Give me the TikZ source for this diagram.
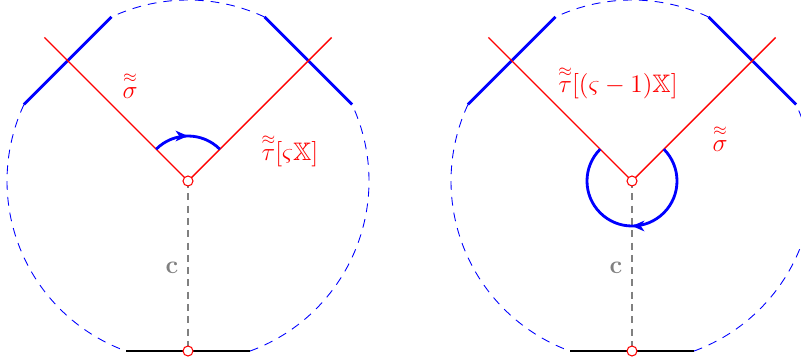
\documentclass[tikz,border=0pt]{standalone}
\usepackage{amsmath,amssymb}
\usetikzlibrary{calc,arrows.meta,decorations.markings}

\begin{document}
\begin{tikzpicture}[>=Stealth,
  redline/.style={red,line width=0.8pt},
  chord/.style={blue,line width=1.6pt},
  bound/.style={blue,line width=0.5pt,dash pattern=on 5pt off 4pt},
  axis/.style={gray,line width=1pt,dash pattern=on 4pt off 3pt},
  turn/.style={blue,line width=1.6pt,decoration={markings,
      mark=at position 0.5 with {\arrow{Stealth[length=7pt,width=6pt,inset=2pt]}}},
    postaction={decorate}},
  lab/.style={red,font=\Large}]
  \useasboundingbox (0,0) rectangle (16.02,-7.24);
  % the two frames
  \foreach \x/\n in {3.76/L,12.64/R}{
    \coordinate (O\n) at (\x,-3.62);
    \path (O\n) +(115:3.62) coordinate (P1\n) +(155:3.62) coordinate (P2\n)
      +(25:3.62) coordinate (P3\n) +(65:3.62) coordinate (P4\n)
      +(250:3.62) coordinate (P5\n) +(290:3.62) coordinate (P6\n)
      +(135:4.06) coordinate (E1\n) +(45:4.06) coordinate (E2\n)
      +(0,-3.4) coordinate (B\n);
    \draw[bound] (P4\n) arc[start angle=65,end angle=115,radius=3.62];
    \draw[bound] (P2\n) arc[start angle=155,end angle=250,radius=3.62];
    \draw[bound] (P6\n) arc[start angle=290,end angle=385,radius=3.62];
    \draw[chord] (P1\n) -- (P2\n);
    \draw[chord] (P3\n) -- (P4\n);
    \draw[redline] (E1\n) -- (O\n) -- (E2\n);
    \draw[axis] (O\n) -- (B\n);
    \draw[black,line width=1.6pt] (P5\n) -- (P6\n);
    \node[gray,font=\Large] (c\n) at ($(O\n)+(-0.32,-1.74)$) {$\mathbf{c}$};
  }
  \draw[turn] ($(OL)+(135:0.9)$) arc[start angle=135,end angle=45,radius=0.9];
  \draw[turn] ($(OR)+(45:0.9)$) arc[start angle=45,end angle=-225,radius=0.9];
  \foreach \n in {L,R}
    \draw[red,fill=white,line width=0.6pt] (O\n) circle(0.1) (B\n) circle(0.1);
  \node[lab] (sigL) at ($(OL)+(-1.16,1.92)$) {$\overset{\approx}{\sigma}$};
  \node[lab] (tauL) at ($(OL)+(2.04,0.62)$) {$\overset{\approx}{\tau}[\varsigma\mathbb{X}]$};
  \node[lab] (tauR) at ($(OR)+(-0.28,1.98)$) {$\overset{\approx}{\tau}[(\varsigma-1)\mathbb{X}]$};
  \node[lab] (sigR) at ($(OR)+(1.76,0.86)$) {$\overset{\approx}{\sigma}$};
\end{tikzpicture}
\end{document}
